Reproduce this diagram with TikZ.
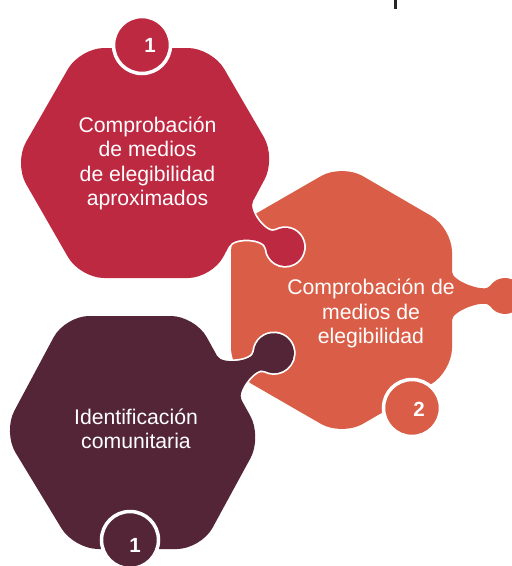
\documentclass[tikz,border=0pt]{standalone}
\usepackage{fontspec}
\setmainfont{Liberation Sans}
\usetikzlibrary{calc}
\definecolor{cred}{RGB}{190,41,66}
\definecolor{corange}{RGB}{218,94,71}
\definecolor{cdark}{RGB}{83,37,55}
% puzzle tab as a closed shape: #1 base point on edge, #2 outward angle, #3 knob distance, #4 neck half width, #5 knob radius, #6 fillet, #7 handle
\newcommand\ptab[7]{%
 ($(#1)+(#2+90:#4+#6)$)
 .. controls ($(#1)+(#2+90:#4+#6)+(#2-90:#7)$)
 and ($(#1)+(#2:#3)+({#2+180-asin(#4/#5)}:#5)+({#2-90-asin(#4/#5)}:#7)$)
 .. ($(#1)+(#2:#3)+({#2+180-asin(#4/#5)}:#5)$)
 arc[start angle={#2+180-asin(#4/#5)}, end angle={#2-180+asin(#4/#5)}, radius=#5]
 .. controls ($(#1)+(#2:#3)+({#2+180+asin(#4/#5)}:#5)+({#2+90+asin(#4/#5)}:#7)$)
 and ($(#1)+(#2-90:#4+#6)+(#2+90:#7)$)
 .. ($(#1)+(#2-90:#4+#6)$) -- ($(#1)+(#2+180:18)$) -- cycle}
\newcommand\orangehex{(286.5,-196) -- (342,-164) -- (452,-228) -- (452,-372) -- (342,-436) -- (231,-372) -- (231,-228) -- cycle}
\newcommand\redhex{(146,-48) -- (212,-48) -- (276,-158) -- (212,-278) -- (80,-278) -- (14,-163) -- (80,-48) -- cycle}
\newcommand\darkhex{(130,-316) -- (195,-316) -- (262,-437) -- (201,-549) -- (74,-549) -- (3,-432) -- (65,-316) -- cycle}
\begin{document}
\begin{tikzpicture}[x=1pt,y=1pt,
  rim/.style={draw=white, line width=3.5pt, line join=round},
  hexround/.style={rounded corners=24pt},
  badge/.style={circle, draw=white, line width=3.5pt, minimum size=57pt, inner sep=0pt},
  lbl/.style={text=white, font=\fontsize{21.2}{24.4}\selectfont, align=center},
  num/.style={text=white, font=\fontsize{20.5}{24}\selectfont\bfseries, inner sep=0pt}]
\useasboundingbox (0,0) rectangle (512,-566);
\fill[black!85] (393.5,0) rectangle (396.5,-9);
\coordinate (rM) at (241,-223.5);
\coordinate (oM) at (452,-296);
\coordinate (dM) at (229.3,-377.9);
% orange piece
\path[rim, hexround] \orangehex;
\path[rim] \ptab{oM}{0}{53}{10}{18}{14}{9};
\fill[corange, hexround] \orangehex;
\fill[corange] \ptab{oM}{0}{53}{10}{18}{14}{9};
% red piece
\path[rim, hexround] \redhex;
\path[rim] \ptab{rM}{-28}{50}{10.5}{19}{15}{11};
\fill[cred, hexround] \redhex;
\fill[cred] \ptab{rM}{-28}{50}{10.5}{19}{15}{11};
% dark piece
\path[rim, hexround] \darkhex;
\path[rim] \ptab{dM}{29}{51}{11}{20}{14}{10};
\fill[cdark, hexround] \darkhex;
\fill[cdark] \ptab{dM}{29}{51}{11}{20}{14}{10};
% badges
\node[badge, fill=cred] (b1) at (142,-45) {};
\node[num] (n1) at (150,-45) {1};
\node[badge, fill=corange] (b2) at (412,-408) {};
\node[num] (n2) at (419,-409) {2};
\node[badge, fill=cdark] (b3) at (130,-540) {};
\node[num] (n3) at (135,-545) {1};
% texts
\node[lbl] (t1) at (147.5,-163.5) {Comprobación\\de medios\\de elegibilidad\\aproximados};
\node[lbl] (t2) at (371,-313.5) {Comprobación de\\medios de\\elegibilidad};
\node[lbl] (t3) at (136,-428.5) {Identificación\\comunitaria};
\end{tikzpicture}
\end{document}
